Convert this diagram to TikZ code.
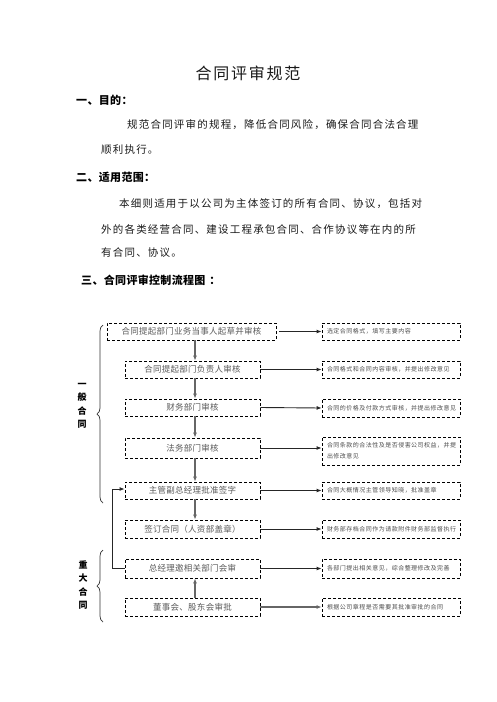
\documentclass[tikz,border=0pt]{standalone}
\usepackage{fontspec}
\newfontfamily\cjk{Noto Sans CJK SC}
\usetikzlibrary{arrows.meta,decorations.pathreplacing}
\begin{document}
\begin{tikzpicture}[x=1pt,y=-1pt,
  txt/.style={inner sep=0pt, anchor=west, text=black!90,
    font=\cjk\fontsize{10.5}{12}\selectfont\addfontfeatures{LetterSpace=11.4}},
  head/.style={inner sep=0pt, anchor=west, text=black,
    font=\cjk\bfseries\fontsize{11}{12}\selectfont\addfontfeatures{LetterSpace=3}},
  flow/.style={draw=black, dash pattern=on 3pt off 2pt, line width=0.8pt,
    minimum height=17pt, inner sep=0pt, text=black!65,
    font=\cjk\fontsize{8.5}{10}\selectfont\addfontfeatures{LetterSpace=3}},
  note/.style={draw=black, dash pattern=on 3pt off 2pt, line width=0.8pt,
    minimum height=17pt, text width=128pt, inner xsep=5pt, inner ysep=0pt,
    align=left, text=black!70,
    font=\cjk\fontsize{6}{11}\selectfont\addfontfeatures{LetterSpace=8}},
  harr/.style={-{Latex[length=5pt,width=4pt]}, line width=0.9pt, black!85},
  varr/.style={-{Latex[length=5pt,width=4pt]}, line width=1.3pt, black!60},
  side/.style={inner sep=0pt, align=center, text=black,
    font=\cjk\bfseries\fontsize{9}{13.4}\selectfont},
  brc/.style={decorate, decoration={brace, amplitude=6pt}, line width=0.7pt, black!80}
]
\useasboundingbox (0,0) rectangle (496,702);

% ---------- text part ----------
\node[inner sep=0pt, text=black!90,
  font=\cjk\fontsize{16}{18}\selectfont\addfontfeatures{LetterSpace=11}] (title) at (248,73) {合同评审规范};
\node[head] (h1) at (76,100) {一、目的：};
\node[txt] (p1a) at (127,125) {规范合同评审的规程，降低合同风险，确保合同合法合理};
\node[txt] (p1b) at (101,150) {顺利执行。};
\node[head] (h2) at (76,177) {二、适用范围：};
\node[txt] (p2a) at (119,204) {本细则适用于以公司为主体签订的所有合同、协议，包括对};
\node[txt] (p2b) at (101,229) {外的各类经营合同、建设工程承包合同、合作协议等在内的所};
\node[txt] (p2c) at (101,253) {有合同、协议。};
\node[head] (h3) at (81,280) {三、合同评审控制流程图\hspace{4pt}：};

% ---------- flowchart ----------
\coordinate (ax) at (195,0);
\node[flow, minimum width=169pt] (b1) at (191.5,331.5) {合同提起部门业务当事人起草并审核};
\node[flow, minimum width=135pt] (b2) at (192.5,369.5) {合同提起部门负责人审核};
\node[flow, minimum width=135pt] (b3) at (192.5,407.5) {财务部门审核};
\node[flow, minimum width=135pt, minimum height=20pt] (b4) at (192.5,448) {法务部门审核};
\node[flow, minimum width=135pt] (b5) at (192.5,490.5) {主管副总经理批准签字};
\node[flow, minimum width=135pt, minimum height=18pt] (b6) at (192.5,529) {签订合同（人资部盖章）};
\node[flow, minimum width=135pt, minimum height=19pt] (b7) at (192.5,568.5) {总经理邀相关部门会审};
\node[flow, minimum width=135pt, minimum height=18pt] (b8) at (192.5,607) {董事会、股东会审批};

\node[note] (r1) at (391,331.5) {选定合同格式，填写主要内容};
\node[note] (r2) at (391,369.5) {合同格式和合同内容审核，并提出修改意见};
\node[note, minimum height=18pt] (r3) at (391,408) {合同的价格及付款方式审核，并提出修改意见};
\node[note, minimum height=28pt] (r4) at (391,451) {合同条款的合法性及是否侵害公司权益，并提\\出修改意见};
\node[note] (r5) at (391,490.5) {合同大概情况主管领导知晓，批准盖章};
\node[note, minimum height=18pt] (r6) at (391,529) {财务部存档合同作为请款附件财务部监督执行};
\node[note, minimum height=19pt] (r7) at (391,568.5) {各部门提出相关意见，综合整理修改及完善};
\node[note, minimum height=18pt] (r8) at (391,607) {根据公司章程是否需要其批准审批的合同};

% horizontal arrows
\draw[harr, shorten <=3pt] (b1.east) -- (r1.west);
\draw[harr] (b2.east) -- (r2.west);
\draw[harr] (b3.east) -- (r3.west);
\draw[harr] (b4.east) -- (r4.west |- b4.east);
\draw[harr] (b5.east) -- (r5.west);
\draw[harr] (b6.east) -- (r6.west);
\draw[harr] (b7.east) -- (r7.west);
\draw[harr, black!60, line width=1.2pt] (b8.east) -- (r8.west);

% vertical arrows
\draw[varr] (b1.south -| ax) -- (b2.north -| ax);
\draw[varr] (b2.south -| ax) -- (b3.north -| ax);
\draw[varr] (b3.south -| ax) -- (b4.north -| ax);
\draw[varr] (b4.south -| ax) -- (b5.north -| ax);
\draw[varr] (b5.south -| ax) -- (b6.north -| ax);
\draw[varr] (b8.north -| ax) -- (b7.south -| ax);

% feedback from b7 to b5
\coordinate (fb) at (112,0);
\draw[harr] (b7.west) -- (b7.west -| fb) |- ([yshift=1.5pt]b5.west);

% braces and side labels
\coordinate (g1b) at (103,503);
\coordinate (g1t) at (103,325);
\coordinate (g2b) at (103,622);
\coordinate (g2t) at (103,550);
\draw[brc] (g1b) -- (g1t);
\draw[brc] (g2b) -- (g2t);
\node[side] (s1) at (82,406) {一\\般\\合\\同};
\node[side] (s2) at (83,585) {重\\大\\合\\同};
\end{tikzpicture}
\end{document}
